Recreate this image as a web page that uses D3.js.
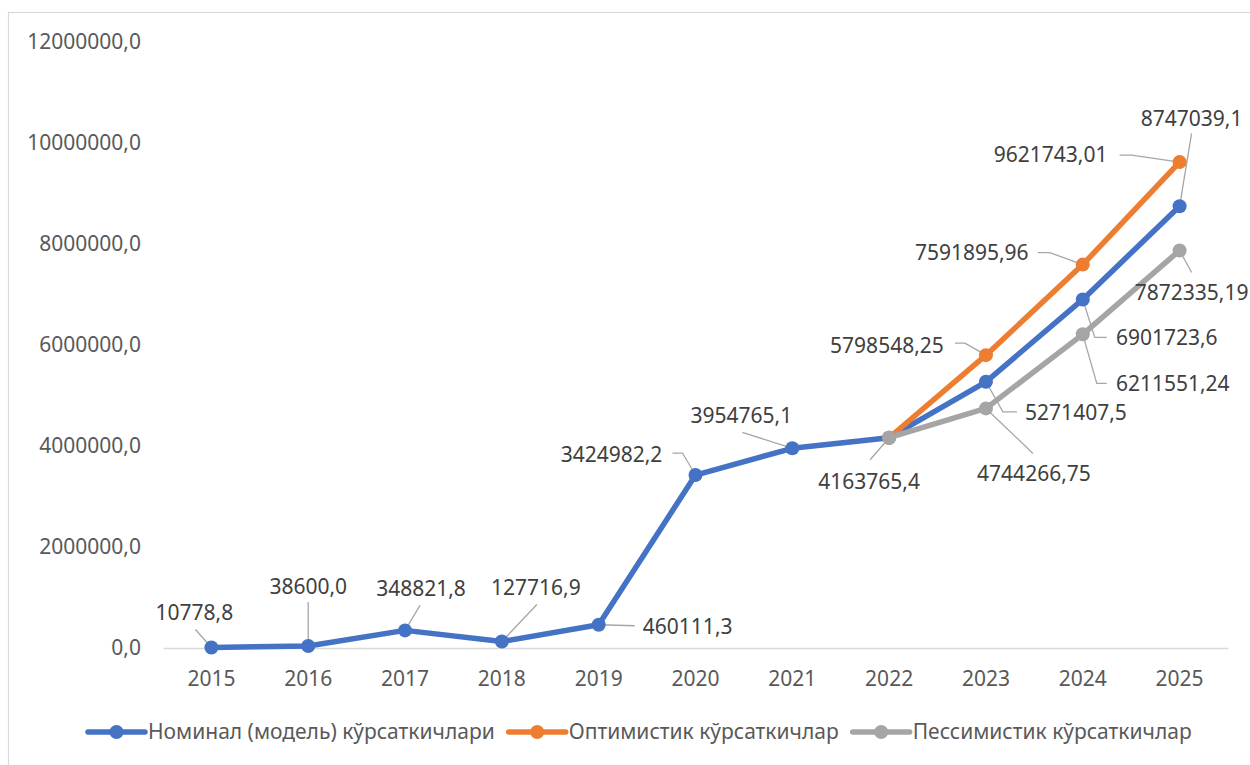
<!DOCTYPE html>
<html>
<head>
<meta charset="utf-8">
<script src="https://cdn.jsdelivr.net/npm/d3@7/dist/d3.min.js"></script>
<style>
  body { margin: 0; background: #fff; }
  svg { font-family: "Noto Sans", "Open Sans", sans-serif; }
</style>
</head>
<body>
<svg width="1250" height="765"></svg>
<script>
// chart data
const years = ["2015","2016","2017","2018","2019","2020","2021","2022","2023","2024","2025"];
const nominal = [10778.8, 38600.0, 348821.8, 127716.9, 460111.3, 3424982.2, 3954765.1, 4163765.4, 5271407.5, 6901723.6, 8747039.1];
const optimistic = [null, null, null, null, null, null, null, 4163765.4, 5798548.25, 7591895.96, 9621743.01];
const pessimistic = [null, null, null, null, null, null, null, 4163765.4, 4744266.75, 6211551.24, 7872335.19];
const yTicks = [0, 2000000, 4000000, 6000000, 8000000, 10000000, 12000000];
const seriesNames = ["Номинал (модель) кўрсаткичлари", "Оптимистик кўрсаткичлар", "Пессимистик кўрсаткичлар"];

// label placement: [label dx, label dy, leader points...] relative to the marker
const nomLabelPos = [
  [-17,-35, [-16,-18]], [0,-59, [0,-44]], [16,-42, [15,-25]], [34,-54, [35,-37]],
  [89,2, [36,1]], [-84,-20, [-23,-22],[-13,-22]], [-51,-33, [-50,-16]], [-20,44, [-19,22]],
  [90,31, [31,30],[17,30]], [84,38, [24,38],[12,38]], [12,-88, [12,-73]]
];
const optLabelPos = [null,null,null,null,null,null,null,null,
  [-99,-10, [-31,-12],[-21,-12]], [-111,-12, [-45,-12],[-33,-12]], [-129,-7, [-60,-7],[-48,-7]]];
const pesLabelPos = [null,null,null,null,null,null,null,null,
  [48,65, [47,45]], [90,49, [24,49],[14,49]], [12,42, [12,22]]];

const colors = ['#4472C4', '#ED7D31', '#A5A5A5'];
const fontSize = '21px';

const svg = d3.select('svg');

// chart frame
svg.append('rect')
  .attr('x', 8.5).attr('y', 12.5)
  .attr('width', 1260).attr('height', 770)
  .attr('fill', 'none').attr('stroke', '#D9D9D9').attr('stroke-width', 1.2);

const plotLeft = 163, plotRight = 1228, plotTop = 42, plotBottom = 648;

const x = d3.scaleBand().domain(years).range([plotLeft, plotRight]);
const y = d3.scaleLinear().domain([0, 12000000]).range([plotBottom, plotTop]);
const cx = d => x(d) + x.bandwidth() / 2;

// y axis labels
const fmtTick = v => d3.format('.1f')(v).replace('.', ',');
svg.append('g')
  .attr('transform', `translate(${plotLeft},0)`)
  .call(d3.axisLeft(y).tickValues(yTicks).tickSize(0).tickPadding(22).tickFormat(fmtTick))
  .call(g => g.select('.domain').remove())
  .selectAll('text')
    .style('font-size', fontSize)
    .style('font-family', '"Noto Sans", sans-serif')
    .attr('fill', '#595959');

// x axis
svg.append('g')
  .attr('transform', `translate(0,${plotBottom})`)
  .call(d3.axisBottom(x).tickSize(0).tickPadding(23))
  .call(g => g.select('.domain').attr('stroke', '#D9D9D9').attr('stroke-width', 1.5))
  .selectAll('text')
    .style('font-size', fontSize)
    .style('font-family', '"Noto Sans", sans-serif')
    .attr('fill', '#595959');

const allSeries = [
  {vals: nominal, color: colors[0], pos: nomLabelPos, dec: 1},
  {vals: optimistic, color: colors[1], pos: optLabelPos, dec: 2},
  {vals: pessimistic, color: colors[2], pos: pesLabelPos, dec: 2}
];

// leader lines (under the series)
const leaders = svg.append('g');
const labels = svg.append('g');
allSeries.forEach(s => {
  s.vals.forEach((v, i) => {
    const p = s.pos[i];
    if (v == null || !p) return;
    const px = cx(years[i]), py = y(v);
    const pts = p.slice(2).map(o => [px + o[0], py + o[1]]);
    pts.push([px, py]);
    leaders.append('polyline')
      .attr('points', pts.map(q => q.join(',')).join(' '))
      .attr('fill', 'none')
      .attr('stroke', '#A6A6A6')
      .attr('stroke-width', 1.3);
    labels.append('text')
      .attr('x', px + p[0]).attr('y', py + p[1])
      .attr('text-anchor', 'middle')
      .attr('dy', '0.35em')
      .style('font-size', fontSize)
      .attr('fill', '#404040')
      .text(d3.format('.' + s.dec + 'f')(v).replace('.', ','));
  });
});

// series lines and markers
const line = d3.line()
  .defined(d => d.v != null)
  .x(d => cx(d.year))
  .y(d => y(d.v));

allSeries.forEach(s => {
  const data = s.vals.map((v, i) => ({year: years[i], v: v}));
  svg.append('path')
    .datum(data)
    .attr('d', line)
    .attr('fill', 'none')
    .attr('stroke', s.color)
    .attr('stroke-width', 5.5)
    .attr('stroke-linejoin', 'round');
  svg.append('g').selectAll('circle')
    .data(data.filter(d => d.v != null))
    .enter()
    .append('circle')
    .attr('cx', d => cx(d.year))
    .attr('cy', d => y(d.v))
    .attr('r', 7)
    .attr('fill', s.color);
});

svg.node().appendChild(labels.node());

// legend
const legend = svg.append('g').attr('transform', 'translate(88,732)');
let lx = 0;
seriesNames.forEach((name, i) => {
  const g = legend.append('g').attr('transform', `translate(${lx},0)`);
  g.append('line')
    .attr('x1', 0).attr('x2', 57)
    .attr('stroke', colors[i]).attr('stroke-width', 5.5).attr('stroke-linecap', 'round');
  g.append('circle').attr('cx', 28.5).attr('r', 7).attr('fill', colors[i]);
  const t = g.append('text')
    .attr('x', 60).attr('dy', '0.35em')
    .style('font-size', fontSize)
    .attr('fill', '#595959')
    .text(name);
  lx += 60 + t.node().getComputedTextLength() + 14;
});
</script>
</body>
</html>
